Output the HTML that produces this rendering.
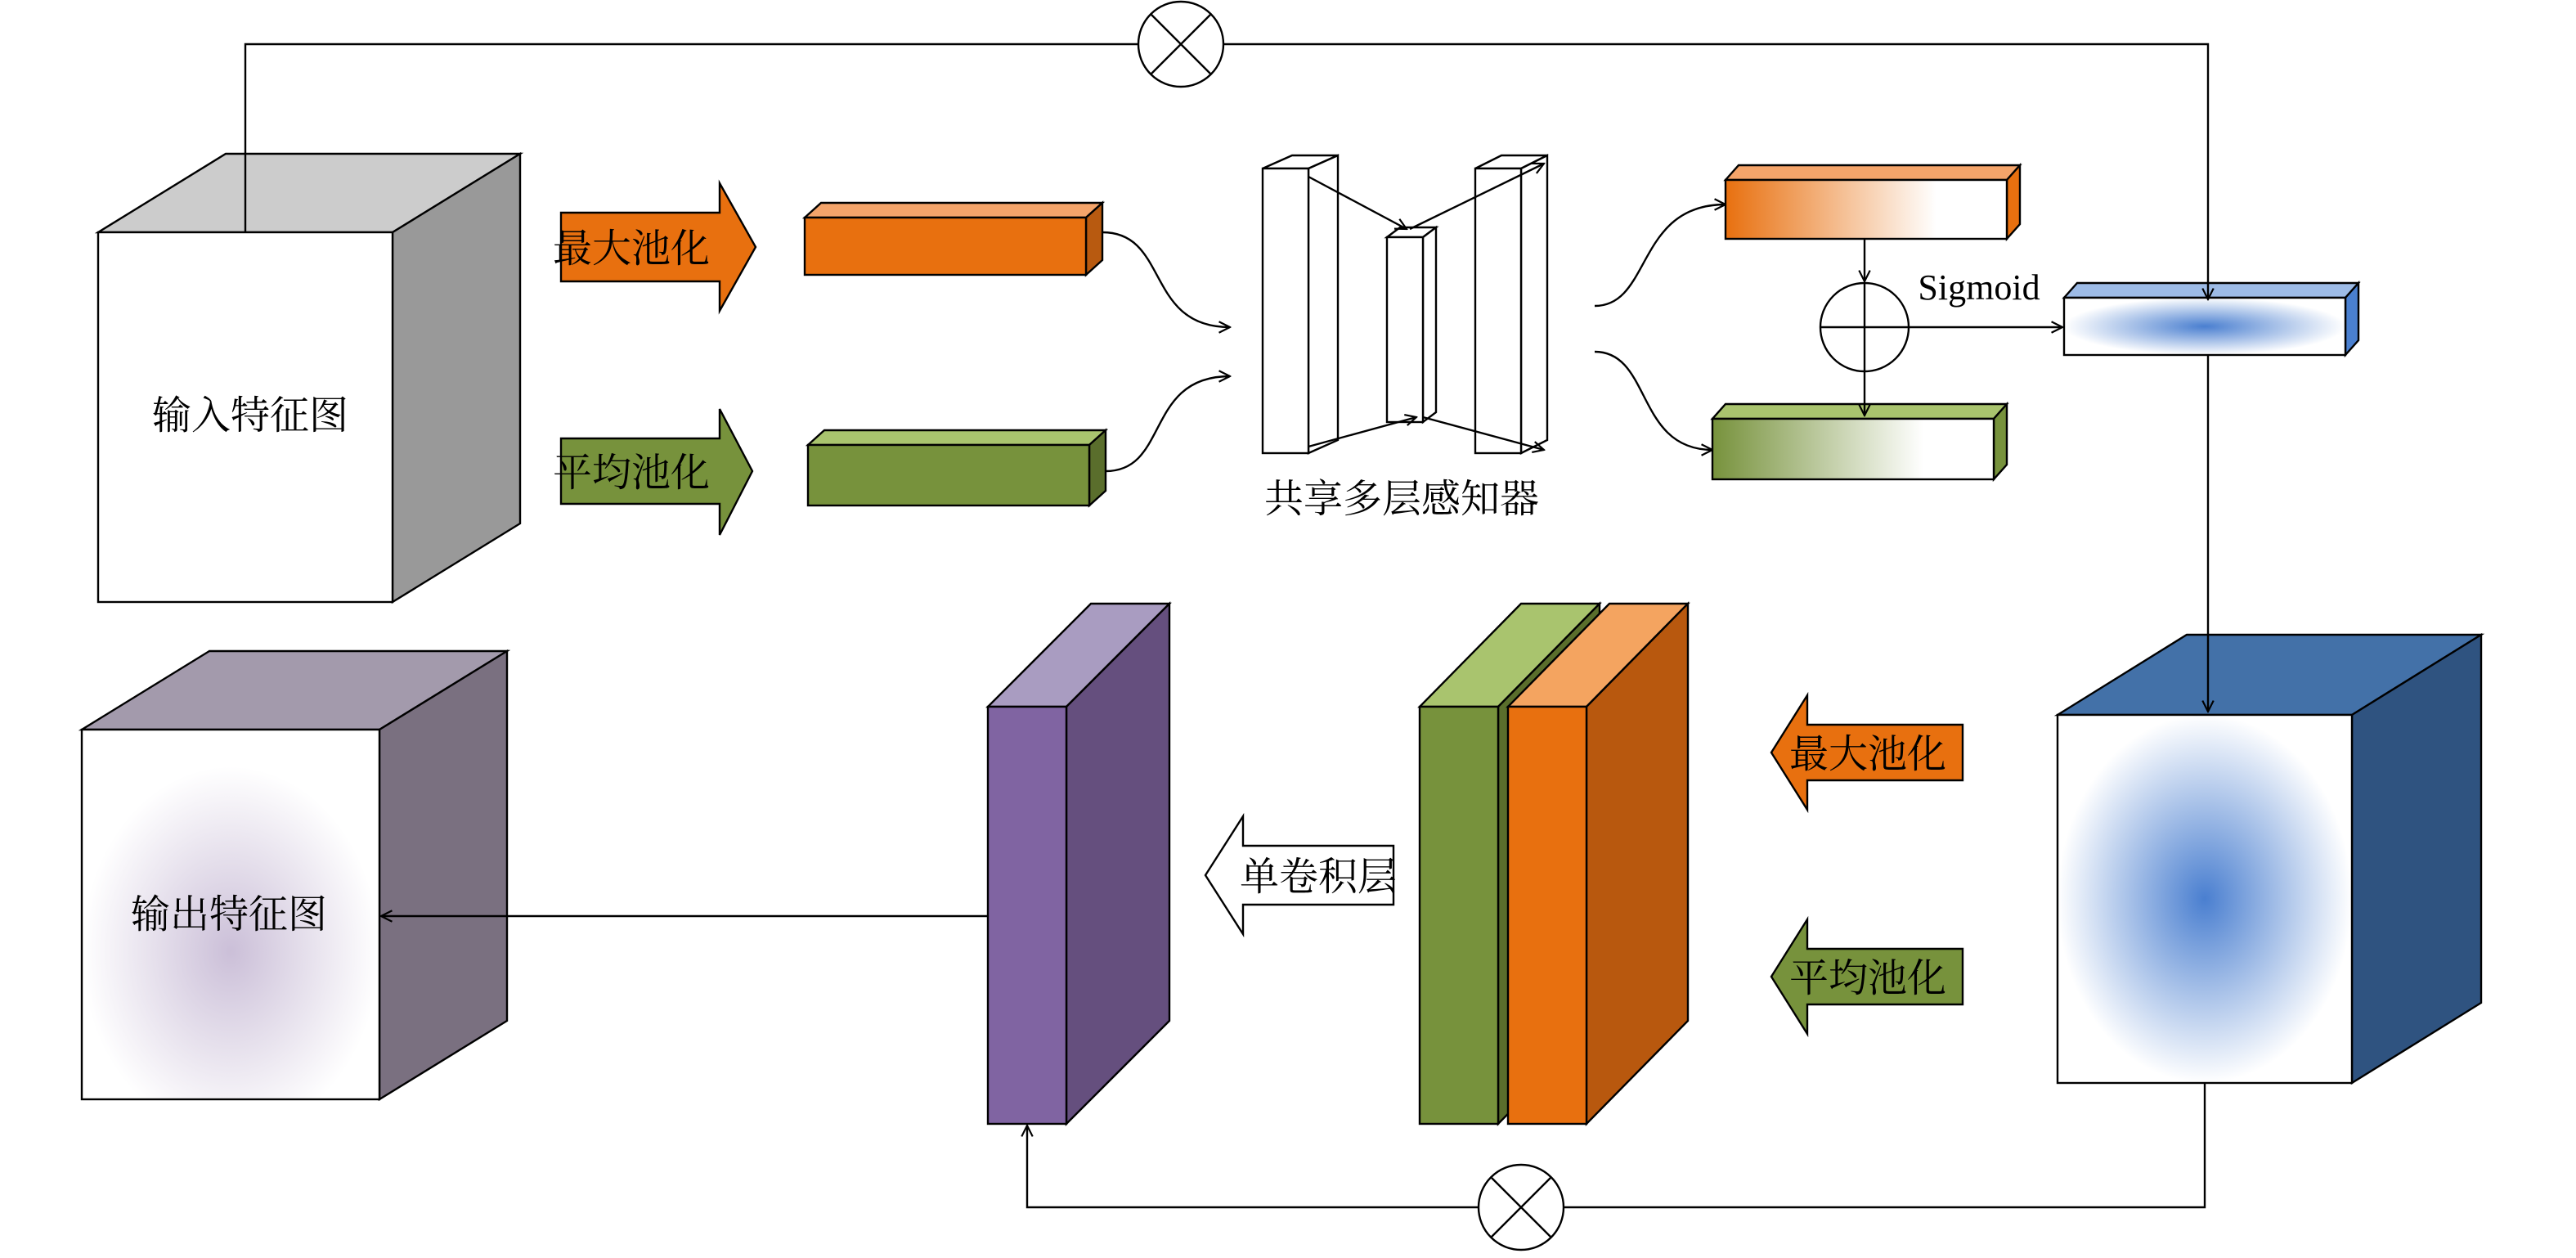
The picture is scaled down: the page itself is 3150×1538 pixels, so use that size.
<!DOCTYPE html>
<html><head><meta charset="utf-8"><style>
html,body{margin:0;padding:0;background:#fff;}
svg{display:block;}
text{font-family:"Liberation Serif","Noto Serif CJK SC","Noto Sans CJK SC",serif;}
</style></head><body>
<svg width="3150" height="1538" viewBox="0 0 1575 769" preserveAspectRatio="none" xmlns="http://www.w3.org/2000/svg">
<defs>
<marker id="ah" viewBox="0 0 10 10" refX="9" refY="5" markerWidth="7" markerHeight="7" orient="auto"><path d="M1,1 L9,5 L1,9" fill="none" stroke="#000" stroke-width="1.3"/></marker>
<linearGradient id="go" x1="0" x2="1"><stop offset="0" stop-color="#e8700f"/><stop offset="0.75" stop-color="#fff"/></linearGradient>
<linearGradient id="gg" x1="0" x2="1"><stop offset="0" stop-color="#77923c"/><stop offset="0.75" stop-color="#fff"/></linearGradient>
<radialGradient id="gb" cx="0.5" cy="0.5" r="0.5"><stop offset="0" stop-color="#4a7fd0"/><stop offset="1" stop-color="#fff"/></radialGradient>
<radialGradient id="gbc" cx="0.5" cy="0.5" r="0.5"><stop offset="0" stop-color="#4a7fd0"/><stop offset="1" stop-color="#fff"/></radialGradient>
<radialGradient id="gp" cx="0.5" cy="0.6" r="0.5"><stop offset="0" stop-color="#cbbfd8"/><stop offset="1" stop-color="#fff"/></radialGradient>
</defs>
<g stroke="#000" stroke-width="1.2">
<!-- top loop -->
<polyline points="150,142 150,27 1350,27 1350,435" fill="none" marker-end="url(#ah)"/>
<circle cx="722" cy="27" r="26" fill="#fff"/>
<path d="M704,9 L740,45 M740,9 L704,45" fill="none"/>
<!-- input cube -->
<polygon points="60,142 240,142 318,94 138,94" fill="#cccccc"/>
<polygon points="240,142 318,94 318,320 240,368" fill="#999999"/>
<rect x="60" y="142" width="180" height="226" fill="#fff"/>
<line x1="150" y1="142" x2="150" y2="94" />
<!-- pooling arrows -->
<polygon points="343,130 440,130 440,112 462,151 440,190 440,172 343,172" fill="#e8700f"/>
<polygon points="343,268 440,268 440,250 460,288 440,327 440,308 343,308" fill="#77923c"/>
<!-- bars -->
<polygon points="492,133 664,133 674,124 502,124" fill="#f4a46a"/>
<polygon points="664,133 674,124 674,159 664,168" fill="#b85a10"/>
<rect x="492" y="133" width="172" height="35" fill="#e8700f"/>
<polygon points="494,272 666,272 676,263 504,263" fill="#a9c46e"/>
<polygon points="666,272 676,263 676,300 666,309" fill="#5a6e2c"/>
<rect x="494" y="272" width="172" height="37" fill="#77923c"/>
<path d="M674,142 C715,142 700,200 752,200" fill="none" marker-end="url(#ah)"/>
<path d="M676,288 C715,288 700,230 752,230" fill="none" marker-end="url(#ah)"/>
<!-- MLP -->
<polygon points="772,103 790,95 818,95 800,103" fill="#fff"/>
<polygon points="800,103 818,95 818,269 800,277" fill="#fff"/>
<rect x="772" y="103" width="28" height="174" fill="#fff"/>
<polygon points="848,145 856,139 878,139 870,145" fill="#fff"/>
<polygon points="870,145 878,139 878,252 870,258" fill="#fff"/>
<rect x="848" y="145" width="22" height="113" fill="#fff"/>
<polygon points="902,103 918,95 946,95 930,103" fill="#fff"/>
<polygon points="930,103 946,95 946,269 930,277" fill="#fff"/>
<rect x="902" y="103" width="28" height="174" fill="#fff"/>
<line x1="800" y1="108" x2="860" y2="140" marker-end="url(#ah)"/>
<line x1="800" y1="273" x2="866" y2="255" marker-end="url(#ah)"/>
<line x1="862" y1="140" x2="944" y2="100" marker-end="url(#ah)"/>
<line x1="870" y1="255" x2="944" y2="275" marker-end="url(#ah)"/>
<path d="M975,187 C1010,187 1000,125 1055,125" fill="none" marker-end="url(#ah)"/>
<path d="M975,215 C1010,215 1000,275 1047,275" fill="none" marker-end="url(#ah)"/>
<!-- gradient bars -->
<polygon points="1055,110 1227,110 1235,101 1063,101" fill="#f4a46a"/>
<polygon points="1227,110 1235,101 1235,137 1227,146" fill="#e8700f"/>
<rect x="1055" y="110" width="172" height="36" fill="url(#go)"/>
<polygon points="1047,256 1219,256 1227,247 1055,247" fill="#a9c46e"/>
<polygon points="1219,256 1227,247 1227,284 1219,293" fill="#77923c"/>
<rect x="1047" y="256" width="172" height="37" fill="url(#gg)"/>
<line x1="1140" y1="146" x2="1140" y2="172" marker-end="url(#ah)"/>
<circle cx="1140" cy="200" r="27" fill="#fff"/>
<path d="M1113,200 L1167,200 M1140,173 L1140,227" fill="none"/>
<line x1="1140" y1="227" x2="1140" y2="254" marker-end="url(#ah)"/>
<line x1="1167" y1="200" x2="1261" y2="200" marker-end="url(#ah)"/>
<polygon points="1262,182 1434,182 1442,173 1270,173" fill="#9dbbe6"/>
<polygon points="1434,182 1442,173 1442,208 1434,217" fill="#4a80d0"/>
<rect x="1262" y="182" width="172" height="35" fill="url(#gb)"/>
<line x1="1350" y1="173" x2="1350" y2="183" marker-end="url(#ah)"/>
<!-- blue cube -->
<polygon points="1258,437 1438,437 1517,388 1337,388" fill="#4371a8"/>
<polygon points="1438,437 1517,388 1517,613 1438,662" fill="#2f5380"/>
<rect x="1258" y="437" width="180" height="225" fill="url(#gbc)"/>
<line x1="1350" y1="388" x2="1350" y2="435" marker-end="url(#ah)"/>
<polyline points="1348,662 1348,738 628,738 628,688" fill="none" marker-end="url(#ah)"/>
<circle cx="930" cy="738" r="26" fill="#fff"/>
<path d="M912,720 L948,756 M948,720 L912,756" fill="none"/>
<!-- left arrows -->
<polygon points="1083,460 1105,425 1105,443 1200,443 1200,477 1105,477 1105,495" fill="#e8700f"/>
<polygon points="1083,597 1105,562 1105,580 1200,580 1200,614 1105,614 1105,632" fill="#77923c"/>
<!-- slabs -->
<polygon points="868,432 916,432 978,369 930,369" fill="#a9c46e"/>
<polygon points="916,432 978,369 978,624 916,687" fill="#5a6e2c"/>
<rect x="868" y="432" width="48" height="255" fill="#77923c"/>
<polygon points="922,432 970,432 1032,369 984,369" fill="#f4a460"/>
<polygon points="970,432 1032,369 1032,624 970,687" fill="#b8580e"/>
<rect x="922" y="432" width="48" height="255" fill="#e8700f"/>
<polygon points="604,432 652,432 715,369 667,369" fill="#a99cc1"/>
<polygon points="652,432 715,369 715,624 652,687" fill="#654f7e"/>
<rect x="604" y="432" width="48" height="255" fill="#8064a2"/>
<polygon points="737,535 760,499 760,517 852,517 852,553 760,553 760,571" fill="#fff"/>
<!-- output cube -->
<polygon points="50,446 232,446 310,398 128,398" fill="#a39aac"/>
<polygon points="232,446 310,398 310,624 232,672" fill="#7a7080"/>
<rect x="50" y="446" width="182" height="226" fill="url(#gp)"/>
<line x1="604" y1="560" x2="233" y2="560" marker-end="url(#ah)"/>
</g>
<g font-size="24" fill="#000">
<text x="153" y="262" text-anchor="middle">输入特征图</text>
<text x="140" y="567" text-anchor="middle">输出特征图</text>
<text x="386" y="160" text-anchor="middle">最大池化</text>
<text x="386" y="297" text-anchor="middle">平均池化</text>
<text x="1142" y="469" text-anchor="middle">最大池化</text>
<text x="1142" y="606" text-anchor="middle">平均池化</text>
<text x="806" y="544" text-anchor="middle">单卷积层</text>
<text x="857" y="313" text-anchor="middle">共享多层感知器</text>
<text x="1210" y="183" text-anchor="middle" font-size="22">Sigmoid</text>
</g>
</svg>
</body></html>
